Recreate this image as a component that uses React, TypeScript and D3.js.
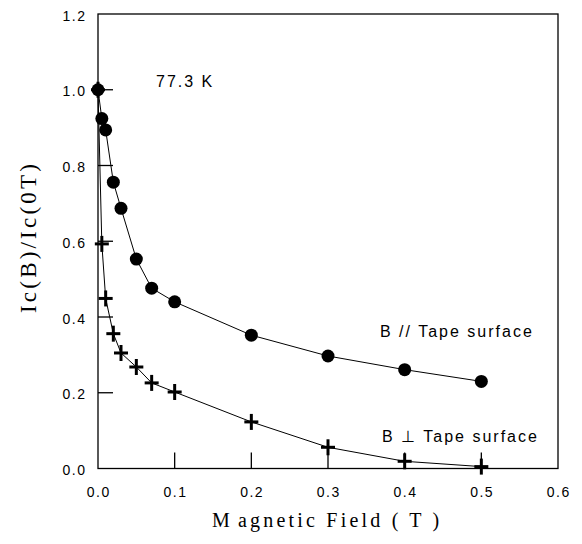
import React from "react";
import * as d3 from "d3";

// B parallel to tape surface (filled circles)
const parField = [0, 0.005, 0.01, 0.02, 0.03, 0.05, 0.07, 0.1, 0.2, 0.3, 0.4, 0.5];
const parIc = [1.0, 0.924, 0.894, 0.756, 0.687, 0.553, 0.476, 0.44, 0.352, 0.297, 0.261, 0.23];

// B perpendicular to tape surface (crosses)
const perpField = [0, 0.005, 0.01, 0.02, 0.03, 0.05, 0.07, 0.1, 0.2, 0.3, 0.4, 0.5];
const perpIc = [1.0, 0.593, 0.449, 0.356, 0.305, 0.268, 0.226, 0.202, 0.123, 0.056, 0.019, 0.005];

const xTicks = [0, 0.1, 0.2, 0.3, 0.4, 0.5, 0.6];
const yTicks = [0, 0.2, 0.4, 0.6, 0.8, 1.0, 1.2];

const W = 582;
const H = 544;
const left = 98;
const right = 558;
const top = 14;
const bottom = 468.5;

const App = () => {
  const x = d3.scaleLinear().domain([0, 0.6]).range([left, right]);
  const y = d3.scaleLinear().domain([0, 1.2]).range([bottom, top]);

  const par = parField.map((f, i) => [f, parIc[i]] as [number, number]);
  const perp = perpField.map((f, i) => [f, perpIc[i]] as [number, number]);

  const ln = d3
    .line<[number, number]>()
    .x((d) => x(d[0]))
    .y((d) => y(d[1]));

  const tickFont = "'Liberation Sans', Arial, sans-serif";
  const titleFont = "'Liberation Serif', 'Times New Roman', serif";

  return (
    <svg
      width={W}
      height={H}
      style={{ position: "absolute", left: 0, top: 0, background: "#fff" }}
    >
      {/* frame */}
      <rect
        x={left}
        y={top}
        width={right - left}
        height={bottom - top}
        fill="none"
        stroke="#000"
        strokeWidth={1.3}
      />

      {/* inward ticks */}
      {xTicks.slice(1, -1).map((t) => (
        <line key={"xt" + t} x1={x(t)} x2={x(t)} y1={bottom} y2={bottom - 16} stroke="#000" strokeWidth={1.3} />
      ))}
      {yTicks.slice(1, -1).map((t) => (
        <line key={"yt" + t} x1={left} x2={left + 15} y1={y(t)} y2={y(t)} stroke="#000" strokeWidth={1.3} />
      ))}

      {/* tick labels */}
      {xTicks.map((t) => (
        <text
          key={"xl" + t}
          x={x(t) + 0.8}
          y={bottom + 28}
          textAnchor="middle"
          fontFamily={tickFont}
          fontSize={14}
          letterSpacing={1.5}
        >
          {t.toFixed(1)}
        </text>
      ))}
      {yTicks.map((t) => (
        <text
          key={"yl" + t}
          x={left - 11.5}
          y={y(t) + 6.5}
          textAnchor="end"
          fontFamily={tickFont}
          fontSize={14}
          letterSpacing={1.5}
        >
          {t.toFixed(1)}
        </text>
      ))}

      {/* axis titles */}
      <text x={212} y={527} fontFamily={titleFont} fontSize={20} letterSpacing={3.2}>
        M<tspan dx={5}>agnetic Field ( T )</tspan>
      </text>
      <text
        transform="translate(36,313) rotate(-90)"
        fontFamily={titleFont}
        fontSize={23}
        letterSpacing={3.2}
      >
        Ic(B)/Ic(0T)
      </text>

      {/* connecting lines */}
      <path d={ln(perp) ?? ""} fill="none" stroke="#000" strokeWidth={1} />
      <path d={ln(par) ?? ""} fill="none" stroke="#000" strokeWidth={1} />

      {/* crosses */}
      {perp.map((d, i) => (
        <g key={"p" + i} stroke="#000" strokeWidth={3}>
          <line x1={x(d[0]) - 7} x2={x(d[0]) + 7} y1={y(d[1])} y2={y(d[1])} />
          <line x1={x(d[0])} x2={x(d[0])} y1={y(d[1]) - 8} y2={y(d[1]) + 8} />
        </g>
      ))}

      {/* circles */}
      {par.map((d, i) => (
        <circle key={"c" + i} cx={x(d[0])} cy={y(d[1])} r={6.5} fill="#000" />
      ))}

      {/* annotations */}
      <text x={156} y={87} fontFamily={tickFont} fontSize={16} letterSpacing={2}>
        77.3 K
      </text>
      <text x={380} y={337} fontFamily={tickFont} fontSize={16} letterSpacing={2}>
        B // Tape surface
      </text>
      <text x={382} y={442} fontFamily={tickFont} fontSize={16} letterSpacing={2}>
        B ⊥ Tape surface
      </text>
    </svg>
  );
};

export default App;
